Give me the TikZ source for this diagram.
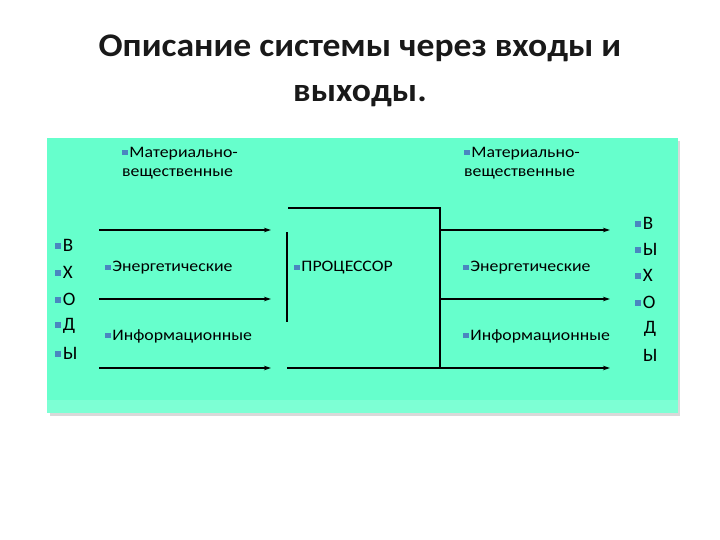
\documentclass[tikz,border=0pt]{standalone}
\usepackage{fontspec}
\setmainfont{Carlito}
\usetikzlibrary{arrows.meta}
\definecolor{bg}{HTML}{66FFCC}
\definecolor{bulc}{HTML}{4A86C0}
\newcommand\bul{{\color{bulc}\rule[0.12em]{0.33em}{0.33em}}\hspace{0.08em}}
\newcommand\sx[1]{\scalebox{1.11}[1]{#1}}
\tikzset{
  lbl/.style={anchor=west,inner sep=0pt,font=\fontsize{16}{19}\selectfont,align=left},
  let/.style={anchor=west,inner sep=0pt,font=\fontsize{19}{22}\selectfont},
  flow/.style={line width=1.4pt,-{Stealth[length=7pt,width=4.5pt]}},
  wall/.style={line width=1.4pt}
}
\begin{document}
\begin{tikzpicture}[x=1pt,y=-1pt]
\useasboundingbox (0,0) rectangle (720,540);
\fill[white] (0,0) rectangle (720,540);
\fill[black!15] (50,141) rectangle (680,416);
\fill[bg] (47,138) rectangle (678,413);
\fill[bg!85!white] (47,400) rectangle (678,413);
% title
\node[font=\bfseries\fontsize{33}{45}\selectfont,align=center,text=black!90] (title) at (360,71) {\scalebox{1.08}[1]{Описание системы через входы и}\\\scalebox{1.08}[1]{выходы.}};
% labels
\node[lbl] (mat1) at (122,163) {\sx{\begin{tabular}{@{}l@{}}\bul Материально-\\вещественные\end{tabular}}};
\node[lbl] (mat2) at (464,163) {\sx{\begin{tabular}{@{}l@{}}\bul Материально-\\вещественные\end{tabular}}};
\node[lbl] (en1) at (105,268) {\sx{\bul Энергетические}};
\node[lbl] (proc) at (294,268) {\sx{\bul ПРОЦЕССОР}};
\node[lbl] (en2) at (463,268) {\sx{\bul Энергетические}};
\node[lbl] (inf1) at (105,336) {\sx{\bul Информационные}};
\node[lbl] (inf2) at (463,336) {\sx{\bul Информационные}};
% left letters
\node[let] (l1) at (55,245) {\bul В};
\node[let] (l2) at (55,272) {\bul Х};
\node[let] (l3) at (55,299) {\bul О};
\node[let] (l4) at (55,326) {\bul Д};
\node[let] (l5) at (55,353) {\bul Ы};
% right letters
\node[let] (r1) at (635,223) {\bul В};
\node[let] (r2) at (635,249) {\bul Ы};
\node[let] (r3) at (635,275) {\bul Х};
\node[let] (r4) at (635,302) {\bul О};
\node[let,anchor=center] (r5) at (650,329) {Д};
\node[let,anchor=center] (r6) at (650,355) {Ы};
% coordinates
\coordinate (a1s) at (99,230); \coordinate (a1e) at (271,230);
\coordinate (a2s) at (99,299); \coordinate (a2e) at (271,299);
\coordinate (a3s) at (99,368); \coordinate (a3e) at (271,368);
\coordinate (ptl) at (288,208); \coordinate (ptr) at (440,208);
\coordinate (pl1) at (287,232); \coordinate (pl2) at (287,322);
\coordinate (pbl) at (287,368); \coordinate (pbr) at (440,368);
\coordinate (o1e) at (610,230); \coordinate (o1s) at (440,230);
\coordinate (o2e) at (610,299); \coordinate (o2s) at (440,299);
\coordinate (o3e) at (610,368);
% input arrows
\draw[flow] (a1s) -- (a1e);
\draw[flow] (a2s) -- (a2e);
\draw[flow] (a3s) -- (a3e);
% processor
\draw[wall] (ptl) -- (ptr) -- (pbr);
\draw[wall] (pl1) -- (pl2);
% outputs
\draw[flow] (pbl) -- (o3e);
\draw[flow] (o1s) -- (o1e);
\draw[flow] (o2s) -- (o2e);
\end{tikzpicture}
\end{document}
